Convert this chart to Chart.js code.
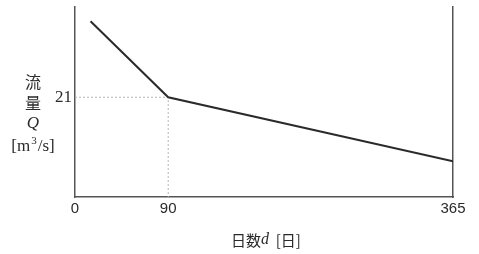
<!DOCTYPE html>
<html>
<head>
<meta charset="utf-8">
<script src="https://cdn.jsdelivr.net/npm/chart.js@4/dist/chart.umd.min.js"></script>
<style>
  html, body { margin: 0; padding: 0; background: #fff; }
  #wrap { width: 479px; height: 254px; }
</style>
</head>
<body>
<div id="wrap"><canvas id="js--chart--flow"></canvas></div>
<script>
// 流況曲線
const days = [15, 90, 365];
const flow = [37, 21, 7.5];
const xTicks = [0, 90, 365];
const yTicks = [21];
const guideDay = 90;
const guideFlow = 21;

const ink = '#2a2a2a';
const axisColor = '#555';

// 縦軸ラベル（流 / 量 / Q / [m³/s]）と横軸ラベル
const titlePlugin = {
  id: 'axisTitles',
  afterDraw(chart) {
    const c = chart.ctx;
    const x = 33;
    c.save();
    c.fillStyle = ink;
    c.textAlign = 'center';
    c.textBaseline = 'middle';
    c.font = '16px "Noto Sans CJK JP"';
    c.fillText('流', x, 82);
    c.fillText('量', x, 103);
    c.font = 'italic 17px "Liberation Serif"';
    c.fillText('Q', x, 124);
    c.font = '17px "Liberation Serif"';
    const a = '[m', b = '/s]';
    const wa = c.measureText(a).width, wb = c.measureText(b).width;
    c.font = '11px "Liberation Serif"';
    const ws = c.measureText('3').width + 2;
    let left = x - (wa + ws + wb) / 2;
    c.textAlign = 'left';
    c.font = '17px "Liberation Serif"';
    c.fillText(a, left, 147);
    c.font = '11px "Liberation Serif"';
    c.fillText('3', left + wa + 1, 141);
    c.font = '17px "Liberation Serif"';
    c.fillText(b, left + wa + ws, 147);

    const parts = [
      ['日数', '15px "Noto Sans CJK JP"'],
      ['d', 'italic 16px "Liberation Serif"'],
      ['  [', '15px "Noto Sans CJK JP"'],
      ['日', '15px "Noto Sans CJK JP"'],
      [']', '15px "Noto Sans CJK JP"']
    ];
    let total = 0;
    parts.forEach(p => { c.font = p[1]; total += c.measureText(p[0]).width; });
    let px = 266 - total / 2;
    parts.forEach(p => {
      c.font = p[1];
      c.fillText(p[0], px, 240);
      px += c.measureText(p[0]).width;
    });
    c.restore();
  }
};

const ctx = document.getElementById('js--chart--flow');

new Chart(ctx, {
  type: 'scatter',
  data: {
    datasets: [
      {
        data: days.map((d, i) => ({ x: d, y: flow[i] })),
        showLine: true,
        borderColor: ink,
        borderWidth: 2,
        pointRadius: 0,
        tension: 0
      },
      {
        data: [{ x: 0, y: guideFlow }, { x: guideDay, y: guideFlow }, { x: guideDay, y: 0 }],
        showLine: true,
        borderColor: '#b5b5b5',
        borderWidth: 1,
        borderDash: [2, 2],
        pointRadius: 0
      }
    ]
  },
  options: {
    responsive: true,
    maintainAspectRatio: false,
    animation: false,
    layout: { padding: { top: 7, right: 26, left: 0, bottom: 0 } },
    plugins: {
      legend: { display: false },
      tooltip: { enabled: false }
    },
    scales: {
      x: {
        type: 'linear',
        min: 0,
        max: 365,
        grid: { display: false, drawTicks: false },
        border: { color: axisColor, width: 1.5 },
        afterBuildTicks: s => { s.ticks = xTicks.map(v => ({ value: v })); },
        afterFit: s => { s.height = 57; },
        ticks: {
          color: ink,
          padding: 3,
          font: { family: '"Liberation Sans"', size: 15 },
          callback: v => v
        }
      },
      y: {
        min: 0,
        max: 40,
        grid: { display: false, drawTicks: false },
        border: { color: axisColor, width: 1.5 },
        afterBuildTicks: s => { s.ticks = yTicks.map(v => ({ value: v })); },
        afterFit: s => { s.width = 75; s.paddingTop = 0; s.paddingBottom = 0; },
        ticks: {
          color: ink,
          padding: 3,
          font: { family: '"Liberation Serif"', size: 17 },
          callback: v => v
        }
      },
      yRight: {
        position: 'right',
        min: 0,
        max: 40,
        grid: { display: false, drawTicks: false },
        border: { color: axisColor, width: 1.5 },
        ticks: { display: false },
        afterFit: s => { s.width = 0; s.paddingTop = 0; s.paddingBottom = 0; }
      }
    }
  },
  plugins: [titlePlugin]
});
</script>
</body>
</html>
